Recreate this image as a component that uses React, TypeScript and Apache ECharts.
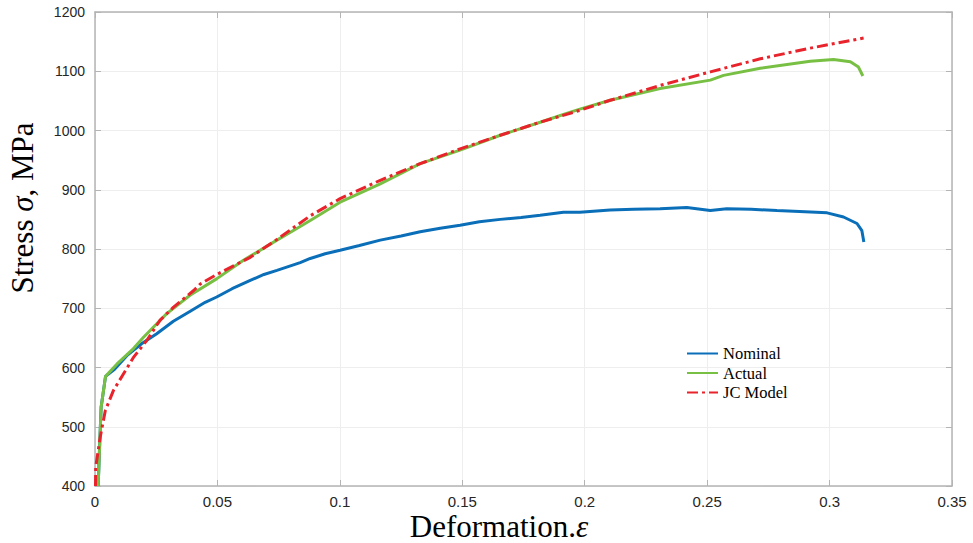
import React, { useEffect, useRef } from "react";
import * as echarts from "echarts";

const nominalStrain = [0.0013, 0.002, 0.0025, 0.0043, 0.008, 0.013, 0.019, 0.0252, 0.032, 0.0389, 0.045, 0.0497, 0.056, 0.0634, 0.069, 0.0743, 0.0838, 0.0879, 0.094, 0.1001, 0.108, 0.1165, 0.125, 0.1328, 0.141, 0.1491, 0.157, 0.1655, 0.174, 0.1818, 0.1913, 0.198, 0.2104, 0.22, 0.2308, 0.2417, 0.2513, 0.258, 0.268, 0.2785, 0.29, 0.299, 0.3057, 0.3112, 0.3132, 0.314];
const nominalStress = [400, 480, 533, 585, 597, 620, 640, 657, 678, 695, 710, 719, 733, 747, 757, 764, 777, 784, 792, 798, 806, 815, 822, 829, 835, 840, 846, 850, 853, 857, 862, 862, 866, 867, 868, 870, 865, 868, 867, 865, 863, 861, 854, 843, 831, 812];

const actualStrain = [0.0013, 0.002, 0.0025, 0.0043, 0.009, 0.0157, 0.0198, 0.0293, 0.0388, 0.0498, 0.0606, 0.0743, 0.0838, 0.0879, 0.1001, 0.1165, 0.1328, 0.1491, 0.1655, 0.1818, 0.1913, 0.198, 0.2104, 0.2308, 0.2513, 0.2567, 0.2717, 0.2921, 0.3016, 0.3085, 0.3118, 0.3136];
const actualStress = [400, 480, 533, 585, 606, 632, 651, 691, 722, 750, 781, 815, 838, 848, 879, 910, 944, 967, 992, 1014, 1027, 1036, 1051, 1071, 1085, 1093, 1105, 1117, 1120, 1116, 1107, 1092];

const jcStrain = [0.0002, 0.0003, 0.0021, 0.0042, 0.0075, 0.0116, 0.0157, 0.0212, 0.0266, 0.0321, 0.0403, 0.043, 0.0497, 0.0634, 0.0743, 0.0879, 0.1001, 0.1165, 0.1328, 0.1491, 0.1655, 0.1818, 0.198, 0.2104, 0.2308, 0.2513, 0.2717, 0.2921, 0.3139];
const jcStress = [400, 432, 482, 527, 561, 589, 617, 646, 680, 702, 730, 741, 757, 786, 816, 856, 885, 916, 944, 969, 992, 1014, 1034, 1051, 1076, 1099, 1121, 1139, 1156];

const xTicks = [0, 0.05, 0.1, 0.15, 0.2, 0.25, 0.3, 0.35];
const yTicks = [400, 500, 600, 700, 800, 900, 1000, 1100, 1200];

const zip = (a: number[], b: number[]) => a.map((v, i) => [v, b[i]]);

export default function App() {
  const ref = useRef<HTMLDivElement>(null);
  useEffect(() => {
    if (!ref.current) return;
    const chart = echarts.init(ref.current, undefined, { renderer: "svg" });
    const axisGray = "#b4b4b4";
    const serif = "Liberation Serif, Times New Roman, serif";
    chart.setOption({
      animation: false,
      backgroundColor: "#ffffff",
      grid: { left: 95, right: 21, top: 12, bottom: 57, containLabel: false, outerBoundsMode: "none" },
      legend: {
        orient: "vertical",
        left: 686,
        top: 345,
        padding: 0,
        itemWidth: 31,
        itemHeight: 12,
        itemGap: 2.5,
        itemStyle: { opacity: 0 },
        textStyle: { fontFamily: serif, fontSize: 16.5, color: "#000" },
        data: ["Nominal", "Actual", "JC Model"],
      },
      graphic: [
        {
          type: "text",
          x: 22,
          y: 208,
          rotation: Math.PI / 2,
          style: {
            text: "{a|Stress }{b|σ}{a|, MPa}",
            align: "center",
            verticalAlign: "middle",
            rich: {
              a: { fontFamily: serif, fontSize: 31, lineHeight: 31, fill: "#000" },
              b: { fontFamily: serif, fontSize: 31, lineHeight: 31, fontStyle: "italic", fill: "#000" },
            },
          },
        },
        {
          type: "text",
          x: 499,
          y: 526,
          style: {
            text: "{a|Deformation.}{b|ε}",
            align: "center",
            verticalAlign: "middle",
            rich: {
              a: { fontFamily: serif, fontSize: 31, lineHeight: 30, fill: "#000" },
              b: { fontFamily: serif, fontSize: 31, lineHeight: 30, fontStyle: "italic", fill: "#000" },
            },
          },
        },
      ],
      xAxis: [
        {
          type: "value",
          min: 0,
          max: 0.35,
          interval: 0.05,
          axisLine: { show: true, onZero: false, lineStyle: { color: axisGray, width: 1.5 } },
          axisTick: { show: true, inside: true, length: 6, lineStyle: { color: axisGray } },
          axisLabel: {
            color: "#262626",
            fontFamily: "Liberation Sans Narrow, Liberation Sans, Arial",
            fontSize: 15,
            margin: 8,
            formatter: (v: number) => (xTicks.some((t) => Math.abs(t - v) < 1e-9) ? String(+v.toFixed(2)) : ""),
          },
          splitLine: { show: true, lineStyle: { color: "#eeeeee", width: 1 } },
        },
        {
          type: "value",
          position: "top",
          min: 0,
          max: 0.35,
          interval: 0.05,
          axisLine: { show: true, onZero: false, lineStyle: { color: axisGray, width: 1.5 } },
          axisTick: { show: true, inside: true, length: 6, lineStyle: { color: axisGray } },
          axisLabel: { show: false },
          splitLine: { show: false },
        },
      ],
      yAxis: [
        {
          type: "value",
          min: 400,
          max: 1200,
          interval: 100,
          axisLine: { show: true, onZero: false, lineStyle: { color: axisGray, width: 1.5 } },
          axisTick: { show: true, inside: true, length: 6, lineStyle: { color: axisGray } },
          axisLabel: {
            color: "#262626",
            fontFamily: "Liberation Sans, Arial",
            fontSize: 14,
            margin: 10,
            formatter: (v: number) => (yTicks.includes(v) ? String(v) : ""),
          },
          splitLine: { show: true, lineStyle: { color: "#eeeeee", width: 1 } },
        },
        {
          type: "value",
          position: "right",
          min: 400,
          max: 1200,
          interval: 100,
          axisLine: { show: true, onZero: false, lineStyle: { color: axisGray, width: 1.5 } },
          axisTick: { show: true, inside: true, length: 6, lineStyle: { color: axisGray } },
          axisLabel: { show: false },
          splitLine: { show: false },
        },
      ],
      series: [
        {
          name: "Nominal",
          type: "line",
          data: zip(nominalStrain, nominalStress),
          showSymbol: false,
          symbol: "none",
          lineStyle: { color: "#0a6fb8", width: 3 },
          itemStyle: { color: "#0a6fb8" },
          z: 2,
        },
        {
          name: "Actual",
          type: "line",
          data: zip(actualStrain, actualStress),
          showSymbol: false,
          symbol: "none",
          lineStyle: { color: "#78c043", width: 3 },
          itemStyle: { color: "#78c043" },
          z: 3,
        },
        {
          name: "JC Model",
          type: "line",
          data: zip(jcStrain, jcStress),
          showSymbol: false,
          symbol: "none",
          lineStyle: { color: "#e8232b", width: 3, type: [11, 4, 3, 4] },
          itemStyle: { color: "#e8232b" },
          z: 4,
        },
      ],
    });
    return () => chart.dispose();
  }, []);
  return <div ref={ref} style={{ width: 973, height: 543, position: "absolute", left: 0, top: 0 }} />;
}
